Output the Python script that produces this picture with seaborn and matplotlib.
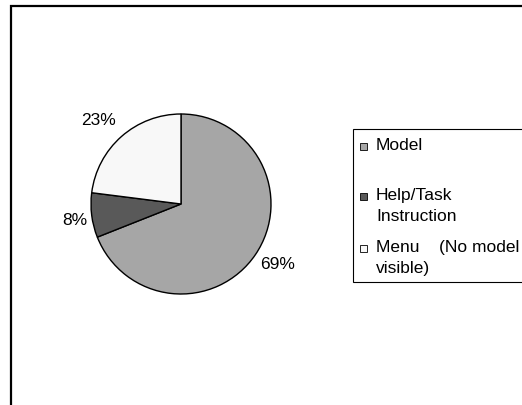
import matplotlib
matplotlib.use("Agg")
import matplotlib.pyplot as plt
from matplotlib.patches import Rectangle
import numpy as np
import seaborn as sns

categories = ["Model", "Help/Task\nInstruction", "Menu    (No model\nvisible)"]
values = [69, 8, 23]
colors = ["#a6a6a6", "#595959", "#f8f8f8"]

sns.set_theme(style="white")
plt.rcParams['font.family'] = ['Liberation Sans', 'DejaVu Sans']

W, H = 522, 405
fig = plt.figure(figsize=(W / 100, H / 100), dpi=100)
fig.patch.set_facecolor("white")

cx, cy, r = 181, 204, 90
ax = fig.add_axes([(cx - r) / W, 1 - (cy + r) / H, 2 * r / W, 2 * r / H])
wedges, texts, autotexts = ax.pie(
    values, colors=colors, startangle=90, counterclock=False,
    autopct='%.0f%%', pctdistance=1.27,
    wedgeprops=dict(edgecolor="black", linewidth=1.0),
    textprops=dict(fontsize=12.5, color="black"))
ax.set_xlim(-1, 1)
ax.set_ylim(-1, 1)
ax.set_aspect("equal")
ax.axis("off")

# label placement (Excel-style outside labels)
label_dist = [1.27, 1.19, 1.30]
label_turn = [2.0, 1.4, 3.3]
for w, t, d, a in zip(wedges, autotexts, label_dist, label_turn):
    ang = np.deg2rad((w.theta1 + w.theta2) / 2 + a)
    t.set_position((d * np.cos(ang), d * np.sin(ang)))
    t.set_clip_on(False)

# outer frame (cut at right and bottom)
fig.add_artist(Rectangle((11 / W, -0.1), 1.2, 1 - 6 / H + 0.1, transform=fig.transFigure,
                         fill=False, edgecolor="black", linewidth=1.6, clip_on=False))

# legend box
fig.add_artist(Rectangle((353 / W, 1 - 282 / H), 1.0, (282 - 129) / H, transform=fig.transFigure,
                         facecolor="white", edgecolor="black", linewidth=0.8, clip_on=False))
baselines = [149.5, 200, 252]
line_gap = 21
for lab, col, yb in zip(categories, colors, baselines):
    fig.add_artist(Rectangle((360 / W, 1 - yb / H), 7 / W, 7 / H, transform=fig.transFigure,
                             facecolor=col, edgecolor="black", linewidth=0.6))
    for i, line in enumerate(lab.split("\n")):
        fig.text(376 / W, 1 - (yb + i * line_gap) / H, line, fontsize=12.5,
                 va="baseline", ha="left", color="black")

fig.savefig("out.png", dpi=100, facecolor="white")
